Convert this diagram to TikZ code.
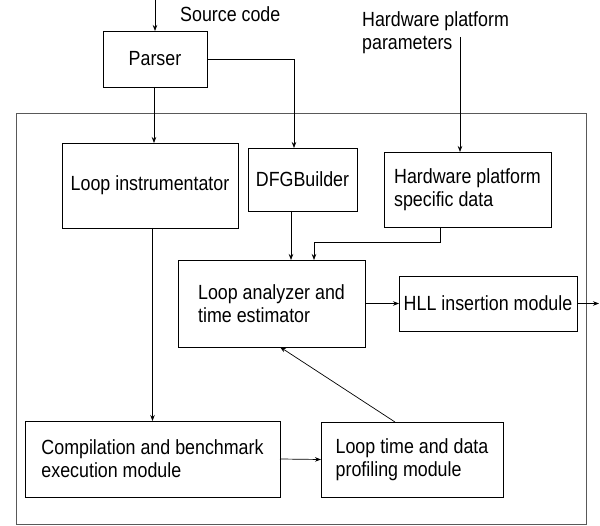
\documentclass[tikz,border=0pt]{standalone}
\usepackage{fontspec}
\setmainfont[FakeStretch=0.87]{Liberation Sans}
\usetikzlibrary{arrows.meta}
\begin{document}
\begin{tikzpicture}[x=1pt,y=-1pt,
  every node/.style={font=\fontsize{20.5}{23}\selectfont},
  block/.style={draw=black, line width=0.8pt, align=left, inner sep=0pt, outer sep=0pt},
  flow/.style={line width=0.7pt, -{Stealth[length=6pt,width=4.5pt]}},
  frame/.style={draw=black!65, line width=0.9pt}
]
\useasboundingbox (0,0) rectangle (600,526);

% enclosing frame
\draw[frame] (16,113) rectangle (586,524);

% blocks
\node[block, minimum width=104pt, minimum height=56pt] (parser) at (155,59) {Parser};
\node[block, minimum width=176pt, minimum height=85pt] (instr) at (150,185.5) {Loop instrumentator};
\node[block, minimum width=109pt, minimum height=63pt] (dfg) at (302.5,179.5) {DFGBuilder};
\node[block, minimum width=167pt, minimum height=75pt] (hwdata) at (467.5,189.5) {Hardware platform\\specific data};
\node[block, minimum width=187pt, minimum height=87pt] (analyzer) at (271.5,303.5) {Loop analyzer and\\time estimator};
\node[block, minimum width=178pt, minimum height=55pt] (hll) at (488,303.5) {HLL insertion module};
\node[block, minimum width=255pt, minimum height=76pt] (compile) at (152.5,459) {Compilation and benchmark\\execution module};
\node[block, minimum width=182pt, minimum height=75pt] (prof) at (412,459.5) {Loop time and data\\profiling module};

% external labels
\node[anchor=base west, inner sep=0pt] (srclabel) at (180,22) {Source code};
\node[anchor=north west, inner sep=0pt, align=left] (hwlabel) at (362,11) {Hardware platform\\parameters};

% free ends
\coordinate (srcin) at (155,0);
\coordinate (hwin) at (460,37);
\coordinate (out) at (599,303.5);

% connectors
\draw[flow] (srcin) -- (parser.north);
\draw[flow] (parser.south -| 154,0) -- (instr.north -| 154,0);
\draw[flow] (parser.east) -| (294,0 |- dfg.north);
\draw[flow] (hwin) -- (hwin |- hwdata.north);
\draw[flow] (dfg.south -| 291,0) -- (analyzer.north -| 291,0);
\draw[flow] (hwdata.south -| 440,0) |- (314,242) -- (analyzer.north -| 314,0);
\draw[flow] (analyzer.east) -- (hll.west);
\draw[flow] (hll.east) -- (out);
\draw[flow] (instr.south -| 152.5,0) -- (compile.north -| 152.5,0);
\draw[flow] (compile.east) -- (prof.west);
\draw[flow] (prof.north -| 395,0) -- (analyzer.south -| 280,0);
\end{tikzpicture}
\end{document}
